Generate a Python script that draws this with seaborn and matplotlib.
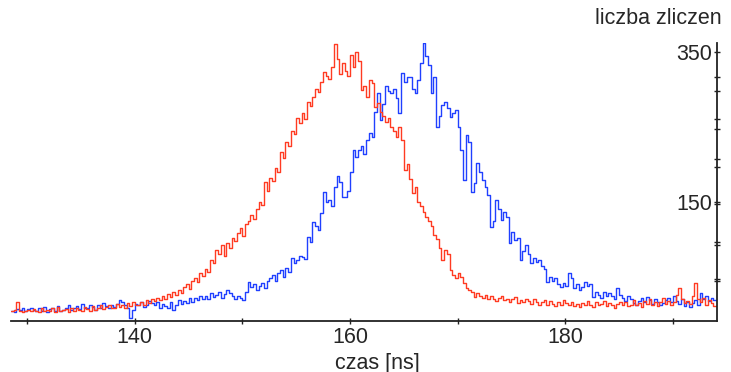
import numpy as np
import pandas as pd
import matplotlib
matplotlib.use("Agg")
import matplotlib.pyplot as plt
import seaborn as sns

# ---- data (counts per 0.25 ns bin, starting at 128.5 ns) ----
bin_start = 128.5
bin_width = 0.25

red_counts = [
    4, 6, 16, 5,   3, 5, 6, 4,   7, 5, 3, 8,   4, 6, 5, 9,
    3, 10, 4, 6,   7, 3, 8, 5,   9, 6, 4, 10,  7, 5, 11, 6,
    8, 12, 7, 10,  13, 9, 8, 14, 10, 12, 9, 15, 11, 16, 13, 12,
    17, 13, 19, 15, 20, 18, 22, 19, 24, 21, 27, 23, 30, 26, 33, 29,
    36, 40, 34, 45, 48, 43, 55, 51, 60, 56, 72, 68, 86, 80, 92, 78,
    95, 88, 102, 98, 108, 115, 104, 120, 124, 132, 127, 140, 150, 146, 176, 165,
    182, 178, 195, 190, 216, 208, 230, 224, 245, 240, 262, 255, 268, 260, 283, 278,
    290, 300, 296, 310, 323, 318, 314, 330, 360, 340, 320, 335, 325, 318, 346, 330,
    350, 338, 299, 305, 290, 313, 308, 277, 282, 270, 265, 256, 262, 250, 245, 236,
    250, 232, 193, 200, 180, 162, 170, 150, 145, 137, 130, 125, 118, 106, 100, 88,
    72, 86, 80, 59, 52, 48, 55, 50, 42, 35, 32, 30, 23, 28, 25, 22,
    26, 20, 24, 21, 18, 22, 25, 19, 21, 16, 20, 23, 15, 19, 17, 21,
    18, 14, 20, 16, 12, 17, 19, 13, 18, 14, 11, 16, 13, 19, 15, 12,
    17, 11, 14, 10, 15, 12, 18, 13, 10, 16, 12, 14, 18, 11, 15, 13,
    9, 14, 17, 12, 16, 11, 13, 19, 12, 15, 10, 18, 14, 20, 13, 16,
    11, 17, 22, 14, 18, 13, 16, 26, 35, 20, 15, 18, 14, 24, 42, 20,
    16, 22, 13, 19, 15, 11,
]

blue_counts = [
    4, 3, 7, 6,   8, 5, 7, 9,   6, 4, 8, 5,   10, 3, 7, 9,
    5, 11, 4, 6,  8, 12, 6, 9,  11, 7, 14, 9, 8, 13, 10, 6,
    12, 9, 15, 11, 8, 13, 10, 14, 19, 16, 12, 8, -5, 6, 14, 12,
    16, 10, 13, 18, 15, 12, 17, 9, 14, 11, 8, 16, 6, 12, 19, 14,
    18, 15, 22, 17, 22, 19, 25, 21, 24, 20, 28, 23, 26, 30, 22, 27,
    32, 28, 24, 21, 25, 22, 19, 30, 43, 36, 40, 32, 38, 42, 35, 44,
    48, 52, 45, 55, 59, 50, 62, 57, 75, 68, 72, 78, 76, 74, 103, 96,
    123, 118, 112, 135, 163, 150, 152, 145, 170, 184, 176, 157, 157, 165, 190, 219,
    210, 219, 225, 214, 232, 242, 236, 270, 295, 259, 280, 304, 298, 295, 300, 289,
    269, 322, 310, 317, 317, 300, 295, 312, 335, 362, 345, 333, 295, 317, 250, 265,
    279, 283, 275, 263, 269, 272, 250, 219, 179, 239, 230, 163, 175, 202, 190, 179,
    170, 159, 116, 125, 152, 140, 126, 137, 130, 95, 110, 99, 102, 72, 85, 92,
    80, 68, 75, 70, 72, 65, 60, 43, 50, 45, 48, 40, 36, 42, 38, 55,
    48, 35, 40, 33, 36, 43, 38, 40, 23, 30, 26, 22, 30, 25, 28, 24,
    20, 35, 26, 22, 18, 24, 20, 15, 12, 18, 22, 16, 23, 19, 14, 20,
    17, 12, 15, 19, 22, 16, 24, 18, 14, 20, 11, 17, 10, 15, 19, 13,
    28, 20, 24, 18, 22, 19,
]

x_ticks = [130, 140, 150, 160, 170, 180, 190]
x_tick_labels = ["", "140", "", "160", "", "180", ""]
y_ticks = [150, 350]
y_tick_labels = ["150", "350"]
y_minor_ticks = [316, 298, 261, 247, 207, 197, 147, 96, 92, 47, 44]

# ---- build table ----
n = len(red_counts)
centers = bin_start + bin_width * (np.arange(n) + 0.5)
df = pd.DataFrame({
    "czas": np.concatenate([centers, centers]),
    "liczba": np.concatenate([red_counts, blue_counts]).astype(float),
    "seria": ["a"] * n + ["b"] * len(blue_counts),
})

sns.set_style("ticks")
plt.rcParams["font.family"] = ["Liberation Sans", "DejaVu Sans"]
FS = 15.5
plt.rcParams["font.size"] = FS

fig = plt.figure(figsize=(7.31, 3.72), dpi=100)
ax = fig.add_axes([11 / 731, 51 / 372, 706 / 731, 278 / 372])

sns.histplot(data=df, x="czas", weights="liczba", hue="seria",
             binwidth=bin_width, binrange=(bin_start, bin_start + bin_width * n),
             element="step", fill=False, palette={"a": "#ff3b22", "b": "#2040ff"},
             linewidth=1.0, legend=False, ax=ax)

ax.set_xlim(128.5, 194.1)
ax.set_ylim(-9, 362)

for s in ["top", "left"]:
    ax.spines[s].set_visible(False)
for s in ["bottom", "right"]:
    ax.spines[s].set_linewidth(1.3)
    ax.spines[s].set_color("#222222")

ax.set_xticks(x_ticks)
ax.set_xticklabels(x_tick_labels)
ax.yaxis.tick_right()
ax.set_yticks(y_ticks)
ax.set_yticklabels(y_tick_labels)
ax.set_yticks(y_minor_ticks, minor=True)
ax.tick_params(axis="both", which="both", direction="inout", length=5, width=1.0,
               color="#222222", labelsize=FS)
ax.tick_params(axis="x", pad=2)
ax.tick_params(axis="y", pad=-6)
for lbl in ax.get_yticklabels():
    lbl.set_horizontalalignment("right")

ax.set_xlabel("czas [ns]", fontsize=FS, va="baseline")
ax.xaxis.set_label_coords((377 - 11) / 706, (321 - 368.5) / 278)
ax.set_ylabel("")
fig.text(722 / 731, 1 - 18 / 372, "liczba zliczen", ha="right", va="center", fontsize=FS)

fig.savefig("out.png", dpi=100)
